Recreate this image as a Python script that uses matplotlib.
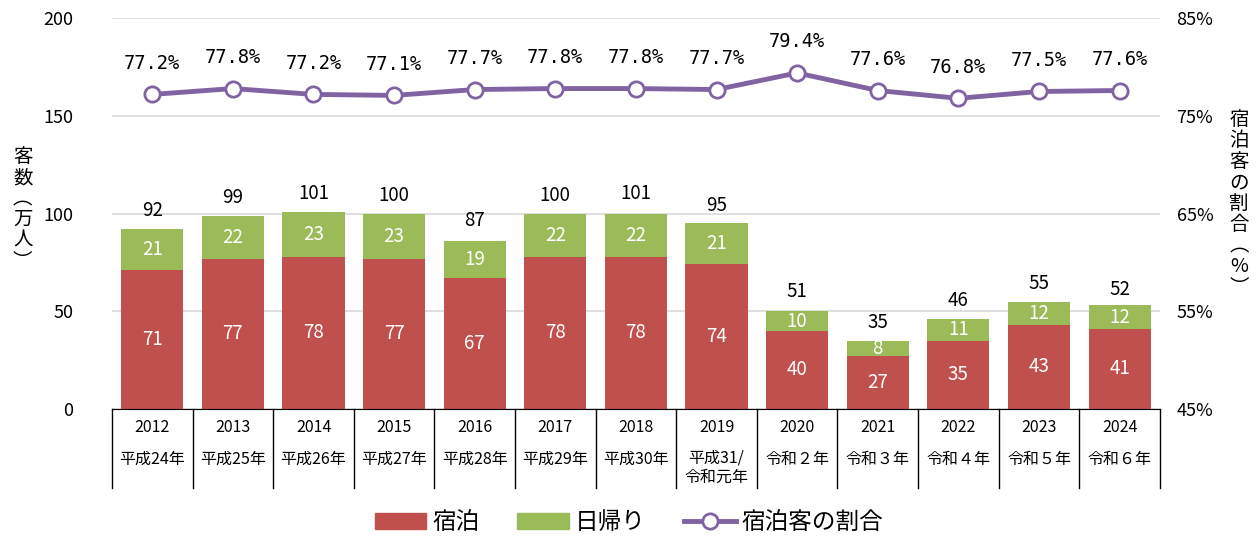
import matplotlib as mpl
mpl.use('Agg')
import matplotlib.pyplot as plt
from matplotlib.patches import Patch
from matplotlib.lines import Line2D

plt.rcParams['font.family'] = ['Noto Sans CJK JP', 'DejaVu Sans']

years = ['2012', '2013', '2014', '2015', '2016', '2017', '2018',
         '2019', '2020', '2021', '2022', '2023', '2024']
eras = ['平成24年', '平成25年', '平成26年', '平成27年', '平成28年', '平成29年',
        '平成30年', '平成31/\n令和元年', '令和２年', '令和３年', '令和４年',
        '令和５年', '令和６年']
stay = [71, 77, 78, 77, 67, 78, 78, 74, 40, 27, 35, 43, 41]
day_trip = [21, 22, 23, 23, 19, 22, 22, 21, 10, 8, 11, 12, 12]
total = [92, 99, 101, 100, 87, 100, 101, 95, 51, 35, 46, 55, 52]
stay_ratio = [77.2, 77.8, 77.2, 77.1, 77.7, 77.8, 77.8, 77.7, 79.4, 77.6, 76.8, 77.5, 77.6]

RED = '#C0504D'
GREEN = '#9BBB59'
PURPLE = '#8064A2'

fig = plt.figure(figsize=(12.58, 5.36), dpi=100)
ax = fig.add_axes([0.089, 0.237, 0.833, 0.729])
ax2 = ax.twinx()

x = list(range(len(years)))
ax.bar(x, stay, width=0.77, color=RED, zorder=2)
ax.bar(x, day_trip, width=0.77, bottom=stay, color=GREEN, zorder=2)

for i in x:
    ax.text(i, stay[i] / 2, str(stay[i]), ha='center', va='center', color='white', fontsize=13.5, zorder=3)
    ax.text(i, stay[i] + day_trip[i] / 2, str(day_trip[i]), ha='center', va='center', color='white', fontsize=13.5, zorder=3)
    ax.text(i, total[i] + 4, str(total[i]), ha='center', va='bottom', color='black', fontsize=13.5)

ax.set_xlim(-0.5, len(years) - 0.5)
ax.set_ylim(0, 200)
ax.set_yticks([0, 50, 100, 150, 200])
ax.yaxis.grid(True, color='#D9D9D9', lw=1.2, zorder=0)
ax.set_axisbelow(True)
ax.tick_params(axis='y', length=0, labelsize=13, pad=28)
ax.set_xticks([])
for s in ['top', 'right', 'left']:
    ax.spines[s].set_visible(False)
ax.spines['bottom'].set_color('black')

# category table under the axis
depth = 40.4
for b in range(len(years) + 1):
    ax.plot([b - 0.5, b - 0.5], [0, -depth], color='black', lw=1, clip_on=False)
for i in x:
    ax.text(i, -9.7, years[i], ha='center', va='center', fontsize=11.5, clip_on=False)
    if '\n' in eras[i]:
        ax.text(i, -30, eras[i], ha='center', va='center', fontsize=11.5, linespacing=1.15, clip_on=False)
    else:
        ax.text(i, -26, eras[i], ha='center', va='center', fontsize=11.5, clip_on=False)

ax2.plot(x, stay_ratio, color=PURPLE, lw=3.5, marker='o', markersize=11,
         markerfacecolor='white', markeredgecolor=PURPLE, markeredgewidth=2, zorder=4)
for i in x:
    ax2.text(i, stay_ratio[i] + 3.2, f'{stay_ratio[i]:.1f}%', ha='center', va='center',
             fontsize=13.5, family=['DejaVu Sans Mono'])
ax2.set_ylim(45, 85)
ax2.set_yticks([45, 55, 65, 75, 85])
ax2.set_yticklabels([f'{v}%' for v in [45, 55, 65, 75, 85]])
ax2.tick_params(axis='y', length=0, labelsize=13, pad=12)
for s in ['top', 'right', 'left', 'bottom']:
    ax2.spines[s].set_visible(False)

fig.text(0.018, 0.61, '客\n数\n︵\n万\n人\n︶', ha='center', va='center', fontsize=14, linespacing=1.0)
fig.text(0.985, 0.62, '宿\n泊\n客\nの\n割\n合\n︵\n%\n︶', ha='center', va='center', fontsize=14, linespacing=1.0)

handles = [Patch(color=RED), Patch(color=GREEN),
           Line2D([0], [0], color=PURPLE, lw=3.5, marker='o', markersize=11,
                  markerfacecolor='white', markeredgecolor=PURPLE, markeredgewidth=2)]
fig.legend(handles, ['宿泊', '日帰り', '宿泊客の割合'], loc='center', bbox_to_anchor=(0.5, 0.025),
           ncol=3, frameon=False, fontsize=17, handlelength=2.2, handleheight=0.7, columnspacing=1.6,
           handletextpad=0.25)

fig.savefig('out.png', dpi=100)
